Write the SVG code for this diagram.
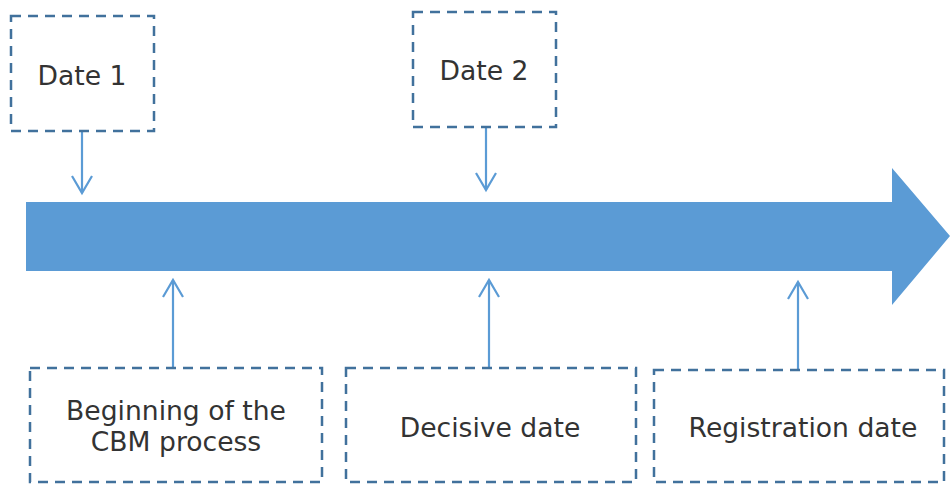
<svg xmlns="http://www.w3.org/2000/svg" width="950" height="484" viewBox="0 0 950 484">
<defs>
<style>
.box{fill:#fff;stroke:#41719C;stroke-width:2.5;stroke-dasharray:10 7}
.lbl{font-family:"DejaVu Sans",Verdana,sans-serif;font-size:26.6px;fill:#333;text-anchor:middle}
.con{stroke:#5B9BD5;stroke-width:2.2;fill:none}
</style>
<marker id="ah" viewBox="0 0 24 24" refX="20" refY="12" markerWidth="24" markerHeight="24" markerUnits="userSpaceOnUse" orient="auto-start-reverse">
<path d="M3 2 L20 12 L3 22" fill="none" stroke="#5B9BD5" stroke-width="2.2"/>
</marker>
</defs>
<g id="timeline">
<path d="M26 202 H892 V168 L950 236 L892 305 V271 H26 Z" fill="#5B9BD5"/>
</g>
<g id="connectors">
<path class="con" d="M82 131 V193" marker-end="url(#ah)"/>
<path class="con" d="M486 127 V190" marker-end="url(#ah)"/>
<path class="con" d="M173 367 V280" marker-end="url(#ah)"/>
<path class="con" d="M489 367 V280" marker-end="url(#ah)"/>
<path class="con" d="M798 369 V282" marker-end="url(#ah)"/>
</g>
<g id="date1">
<rect class="box" x="11" y="16" width="143" height="115"/>
<text class="lbl" x="82" y="85">Date 1</text>
</g>
<g id="date2">
<rect class="box" x="413" y="12" width="143" height="115"/>
<text class="lbl" x="484" y="80">Date 2</text>
</g>
<g id="beginning">
<rect class="box" x="30" y="368" width="292" height="114"/>
<text class="lbl" x="176" y="420">Beginning of the</text>
<text class="lbl" x="176" y="451">CBM process</text>
</g>
<g id="decisive">
<rect class="box" x="346" y="368" width="290" height="114"/>
<text class="lbl" x="490" y="437">Decisive date</text>
</g>
<g id="registration">
<rect class="box" x="654" y="370" width="290" height="112"/>
<text class="lbl" x="803" y="437">Registration date</text>
</g>
</svg>
